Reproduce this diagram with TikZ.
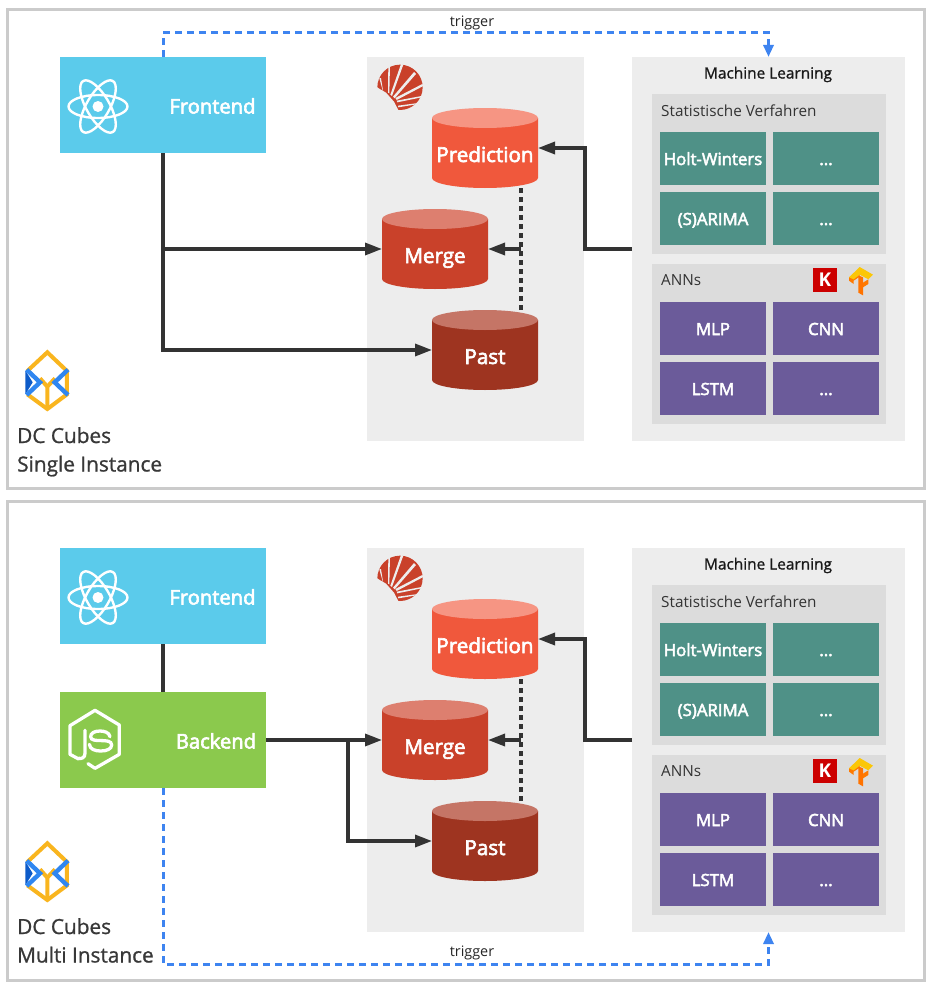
\documentclass[tikz,border=0pt]{standalone}
\usepackage{fontspec}
\setmainfont{Open Sans}
\newfontfamily\semi[FakeBold=3]{Open Sans}
\newfontfamily\semilight[FakeBold=1]{Open Sans}
\usetikzlibrary{arrows.meta}
\definecolor{cframe}{HTML}{CBCBCB}
\definecolor{cfront}{HTML}{5BCBEB}
\definecolor{cback}{HTML}{8BC94D}
\definecolor{cpanel}{HTML}{EDEDED}
\definecolor{csub}{HTML}{DCDCDC}
\definecolor{cteal}{HTML}{4F9187}
\definecolor{cpurple}{HTML}{6B5B9A}
\definecolor{cpredb}{HTML}{F0583C}
\definecolor{cpredt}{HTML}{F69583}
\definecolor{cmergeb}{HTML}{C9412A}
\definecolor{cmerget}{HTML}{DD7F6F}
\definecolor{cpastb}{HTML}{9E3420}
\definecolor{cpastt}{HTML}{C57566}
\definecolor{cline}{HTML}{333333}
\definecolor{cblue}{HTML}{3E84F0}
\definecolor{cyel}{HTML}{F9B51E}
\definecolor{cbl}{HTML}{2F86F0}
\definecolor{cbld}{HTML}{0D5BC9}
\tikzset{
  x=1pt,y=-1pt,
  block/.style={inner sep=0pt,outer sep=0pt,minimum width=#1},
  hh/.style={minimum height=#1},
  tile/.style={text=white,font=\semi\fontsize{16.8}{18}\selectfont,inner sep=0pt,outer sep=0pt,minimum width=106pt,minimum height=53pt,text height=13pt,text depth=0pt},
  tealtile/.style={tile,fill=cteal},
  purptile/.style={tile,fill=cpurple},
  biglab/.style={text=white,font=\semi\fontsize{20.2}{22}\selectfont,inner sep=0pt,text height=15pt,text depth=0pt},
  dbbox/.style={inner sep=0pt,outer sep=0pt,minimum width=106pt,minimum height=80pt},
  dblab/.style={text=white,font=\semi\fontsize{20.6}{22}\selectfont,inner sep=0pt,text height=15pt,text depth=0pt},
  sublab/.style={text=black!80,font=\fontsize{15.3}{17}\selectfont,inner sep=0pt,anchor=west},
  solid arrow/.style={draw=cline,line width=3.3pt,-{Triangle[length=17pt,width=12pt]}},
  plain link/.style={draw=cline,line width=3.3pt},
  dash link/.style={draw=cline,line width=3.3pt,dash pattern=on 5pt off 4pt},
  blue link/.style={draw=cblue,line width=3pt,dash pattern=on 7pt off 5pt,-{Triangle[length=12pt,width=10pt]}},
  trig/.style={font=\fontsize{14.4}{16}\selectfont,text=black!85,inner sep=0pt},
  titlelab/.style={font=\semilight\fontsize{15.4}{17}\selectfont,text=black!90,inner sep=0pt},
  dclab/.style={font=\semilight\fontsize{20.8}{22}\selectfont,text=black!78,inner sep=0pt,anchor=base west},
}
\newcommand{\cyl}[6]{% name,x,y,body,top,label
  \fill[#4] (#2,#3+10) -- (#2+106,#3+10) -- (#2+106,#3+70) arc[x radius=53,y radius=10,start angle=0,end angle=180] -- cycle;
  \fill[#5] (#2+53,#3+10) ellipse[x radius=53,y radius=10];
  \node[dbbox] (#1) at (#2+53,#3+40) {};
  \node[dblab] (#1lab) at (#2+53,#3+46.5) {#6};
}
\newcommand{\reacticon}[1]{%
  \begin{scope}[shift={(#1)}]
    \foreach \a in {0,60,120}
      \draw[white,line width=2.4pt,rotate=\a] (0,0) ellipse[x radius=29.5,y radius=11.5];
    \fill[white] (0,0) circle[radius=5.5];
  \end{scope}
}
\newcommand{\sparklogo}{%
  \begin{scope}[shift={(370,60)},x=0.3333pt,y=-0.3333pt]
    \fill[cmergeb] (90,82) circle[radius=68];
    \fill[cpanel] (5,70) -- (26,85) -- (48,98) -- (72,125) -- (88,156) -- (5,165) -- cycle;
    \fill[cpanel] (28,55) -- (33,54) -- (40,98) -- cycle;
    \fill[cpanel] (55,16) -- (60,15) -- (58,100) -- (54,98) -- cycle;
    \fill[cpanel] (93,12) -- (100,14) -- (66,108) -- (61,104) -- cycle;
    \fill[cpanel] (132,36) -- (138,42) -- (74,115) -- (69,110) -- cycle;
    \fill[cpanel] (157,72) -- (160,78) -- (80,120) -- (76,114) -- cycle;
    \fill[cpanel] (160,107) -- (160,111) -- (82,127) -- (80,122) -- cycle;
    \fill[cpanel] (145,129) -- (145,132) -- (85,142) -- (84,137) -- cycle;
  \end{scope}
}
\newcommand{\dclogo}{%
  \begin{scope}[shift={(20,345)},x=0.3333pt,y=-0.3333pt]
    \draw[cyel,line width=4pt,line join=miter] (22,78) -- (82,22) -- (141,78) -- (141,148) -- (82,192) -- (22,148);
    \draw[cyel,line width=4pt] (60,100) -- (82,125) -- (105,100) (82,125) -- (82,192);
    \fill[cbld] (16,76) -- (38,112) -- (16,148) -- cycle;
    \draw[cbl,line width=4.4pt] (20,74) -- (60,112) -- (20,150);
    \draw[cbl,line width=4.4pt] (144,74) -- (104,112) -- (144,150);
  \end{scope}
}
\newcommand{\nodelogo}[1]{%
  \begin{scope}[shift={(#1)},x=0.3333pt,y=-0.3333pt]
    \draw[white,line width=3.3pt,line join=round,line cap=round] (56,162) -- (30,148) -- (30,62) -- (105,16) -- (178,60) -- (178,148) -- (105,190) -- (84,176);
    \draw[white,line width=3.3pt,line cap=round] (75,76) -- (75,145) .. controls (75,158) and (65,162) .. (56,160);
    \draw[white,line width=3.3pt,line cap=round] (150,95) .. controls (148,82) and (132,78) .. (120,78) .. controls (102,78) and (92,85) .. (92,95) .. controls (92,118) and (155,95) .. (155,120) .. controls (155,132) and (140,138) .. (122,138) .. controls (105,138) and (90,133) .. (88,118);
  \end{scope}
}
\newcommand{\kerasicon}{%
  \fill[red!80!black] (813,268) rectangle (837,292);
  \node[text=white,font=\bfseries\fontsize{19}{20}\selectfont,inner sep=0pt] at (825,280) {K};
}
\newcommand{\tficon}{%
  \begin{scope}[shift={(845,262)},x=0.3333pt,y=-0.3333pt]
    \fill[orange!95!red] (12,46) -- (44,28) -- (44,44) -- (26,56) -- (26,66) -- (12,56) -- cycle;
    \fill[orange!90!red] (40,40) -- (54,46) -- (54,100) -- (40,92) -- cycle;
    \fill[orange!95!red] (54,62) -- (70,52) -- (70,66) -- (54,76) -- cycle;
    \fill[yellow!60!orange] (12,46) -- (44,15) -- (84,38) -- (70,52) -- (44,38) -- (26,52) -- cycle;
  \end{scope}
}
\newcommand{\common}[1]{%
  \node[block=217pt,hh=384pt,fill=cpanel] (#1spark) at (475.5,249) {};
  \node[block=273pt,hh=384pt,fill=cpanel] (#1ml) at (768.5,249) {};
  \sparklogo
  \node[titlelab] (#1mltitle) at (768,74.5) {Machine Learning};
  \node[block=234pt,hh=160pt,fill=csub] (#1stat) at (769,174) {};
  \node[block=234pt,hh=160pt,fill=csub] (#1ann) at (769,344) {};
  \node[sublab] (#1stattitle) at (661,110.5) {Statistische Verfahren};
  \node[sublab] (#1anntitle) at (661,280.5) {ANNs};
  \node[tealtile] (#1holt) at (713,158.5) {Holt-Winters};
  \node[tealtile] (#1dota) at (826,158.5) {...};
  \node[tealtile] (#1arima) at (713,218.5) {(S)ARIMA};
  \node[tealtile] (#1dotb) at (826,218.5) {...};
  \node[purptile] (#1mlp) at (713,328.5) {MLP};
  \node[purptile] (#1cnn) at (826,328.5) {CNN};
  \node[purptile] (#1lstm) at (713,388.5) {LSTM};
  \node[purptile] (#1dotc) at (826,388.5) {...};
  \kerasicon
  \tficon
  \cyl{#1pred}{432}{108}{cpredb}{cpredt}{Prediction}
  \cyl{#1merge}{382}{209}{cmergeb}{cmerget}{Merge}
  \cyl{#1past}{432}{310}{cpastb}{cpastt}{Past}
  \coordinate (#1bend) at (585,200);
  \coordinate (#1dash) at (521,249);
  \draw[solid arrow] (#1ml.west) -| (#1bend) |- (#1pred.east);
  \draw[dash link] (#1past.north -| #1dash) -- (#1pred.south -| #1dash);
  \draw[solid arrow] (#1dash) -- (#1merge.east);
  \node[block=206pt,hh=96pt,fill=cfront] (#1front) at (163,105) {};
  \reacticon{98,106.5}
  \node[biglab] (#1frontlab) at (212.5,106) {Frontend};
  \dclogo
}
\begin{document}
\begin{tikzpicture}
\useasboundingbox (0,0) rectangle (936,990);
\fill[white] (0,0) rectangle (936,990);
\draw[cframe,line width=3pt] (7.5,10) rectangle (924,488.5);
\common{t}
\coordinate (ttrigc) at (472,33);
\draw[blue link] (tfront.north) |- (ttrigc) -| (tml.north);
\node[trig] (ttriglab) at (472,23) {trigger};
\draw[solid arrow] (tfront.south) |- (tmerge.west);
\draw[solid arrow] (tfront.south) |- (tpast.west);
\node[dclab] (tdca) at (17,443) {DC Cubes};
\node[dclab] (tdcb) at (17,471.5) {Single Instance};
\draw[cframe,line width=3pt] (7.5,501) rectangle (924,980);
\begin{scope}[yshift=-491pt]
\common{b}
\node[block=206pt,hh=96pt,fill=cback] (bback) at (163,249) {};
\nodelogo{60,214}
\node[biglab] (bbacklab) at (216,250) {Backend};
\draw[plain link] (bfront.south) -- (bback.north);
\coordinate (bsplit) at (348,300);
\draw[solid arrow] (bback.east) -- (bmerge.west);
\draw[solid arrow] (bback.east) -| (bsplit) |- (bpast.west);
\coordinate (btrigc) at (472,473);
\draw[blue link] (bback.south) |- (btrigc) -| (bml.south);
\node[trig] (btriglab) at (472,462) {trigger};
\node[dclab] (bdca) at (17,443) {DC Cubes};
\node[dclab] (bdcb) at (17,471.5) {Multi Instance};
\end{scope}
\end{tikzpicture}
\end{document}
